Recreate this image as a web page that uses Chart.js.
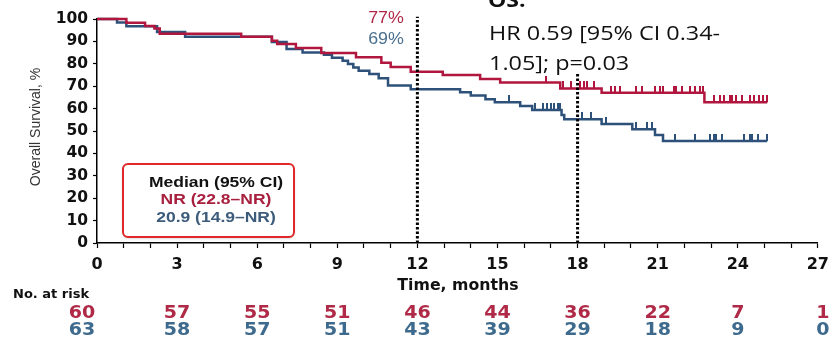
<!DOCTYPE html>
<html>
<head>
<meta charset="utf-8">
<script src="https://cdn.jsdelivr.net/npm/chart.js@4.4.1/dist/chart.umd.min.js"></script>
<style>
  html, body { margin: 0; padding: 0; background: #fff; }
</style>
</head>
<body>
<canvas id="km" width="836" height="341"></canvas>
<script>
// Kaplan-Meier steps (months, % surviving)
const redTimes = [0, 1.1, 1.8, 2.15, 2.35, 5.4, 6.55, 6.75, 7.45, 8.4, 9.7, 10.65, 11.0, 11.75, 12.95, 14.35, 15.1, 17.35, 18.9, 22.75, 25.1];
const redSurv  = [100, 98.3, 96.9, 95.8, 93.4, 92.1, 90.3, 88.8, 87.0, 84.8, 82.9, 80.5, 78.6, 76.5, 75.0, 73.2, 71.6, 69.0, 67.1, 62.8, 62.8];
const redCensor = [16.8, 17.45, 17.75, 18.1, 18.25, 18.35, 18.6, 19.25, 19.4, 19.6, 20.2, 20.4, 20.9, 21.1, 21.2, 21.6, 21.7, 21.9, 22.2, 22.4, 22.6, 22.7,
                   23.1, 23.35, 23.5, 23.7, 23.8, 23.95, 24.15, 24.45, 24.6, 24.8, 24.95, 25.1];

const blueTimes = [0, 0.75, 1.1, 2.25, 3.3, 6.55, 7.1, 7.7, 8.5, 8.8, 9.2, 9.4, 9.6, 9.8, 10.2, 10.55, 10.9, 11.75, 13.6, 14.0, 14.55, 14.9, 15.85, 16.3, 17.4, 17.5, 18.9, 20.05, 20.9, 21.2, 25.1];
const blueSurv  = [100, 98.4, 96.8, 94.2, 92.1, 89.7, 86.6, 85.1, 84.0, 82.7, 81.4, 79.9, 78.4, 76.9, 75.4, 73.5, 70.3, 68.6, 67.3, 65.8, 64.2, 62.8, 61.2, 59.4, 57.1, 55.2, 53.1, 50.8, 48.2, 45.5, 45.5];
const blueCensor = [0.4, 15.45, 16.4, 16.7, 16.85, 17.0, 17.1, 17.25, 17.35, 18.15, 18.5, 19.05, 20.2, 20.6, 20.8, 21.65, 22.4, 22.95, 23.1, 23.2, 23.4,
                    24.25, 24.45, 24.55, 24.75, 25.1];

// landmark lines (month, top of line in %)
const landmarkMonths = [12, 18];
const landmarkTops = [101, 76];
const landmarkLabels = ['77%', '69%'];

// number at risk
const riskMonths = [0, 3, 6, 9, 12, 15, 18, 21, 24, 27];
const riskRed  = [60, 57, 55, 51, 46, 44, 36, 22, 7, 1];
const riskBlue = [63, 58, 57, 51, 43, 39, 29, 18, 9, 0];

const legendLines = ['Median (95% CI)', 'NR (22.8\u2013NR)', '20.9 (14.9\u2013NR)'];
const statLines = ['OS:', 'HR 0.59 [95% CI 0.34-', '1.05]; p=0.03'];

const RED = '#b1163e';
const BLUE = '#2d5179';
const RED_TXT = '#b02a48';
const BLUE_TXT = '#3d6a8d';

function survAt(times, surv, t) {
    let s = surv[0];
    for (let i = 0; i < times.length; i++) {
        if (times[i] <= t) s = surv[i];
    }
    return s;
}

// upward censor tick
function tickMark(color) {
    const c = document.createElement('canvas');
    c.width = 2;
    c.height = 14;
    const g = c.getContext('2d');
    g.fillStyle = color;
    g.fillRect(0, 0, 2, 7);
    return c;
}

function text(ctx, s, x, y, font, color, align, sx, baseline) {
    ctx.save();
    ctx.translate(x, y);
    ctx.scale(sx || 1, 1);
    ctx.font = font;
    ctx.fillStyle = color;
    ctx.textAlign = align || 'left';
    ctx.textBaseline = baseline || 'middle';
    ctx.fillText(s, 0, 0);
    ctx.restore();
}

const stepData = (times, surv) => times.map((t, i) => ({ x: t, y: surv[i] }));
const censorData = (ts, times, surv) => ts.map(t => ({ x: t, y: survAt(times, surv, t) }));

const annotations = {
    id: 'annotations',
    beforeDraw(chart) {
        const ctx = chart.ctx;
        ctx.save();
        ctx.fillStyle = '#fff';
        ctx.fillRect(0, 0, chart.width, chart.height);
        ctx.restore();
    },
    afterDraw(chart) {
        const ctx = chart.ctx;
        const xs = chart.scales.x;
        const bold = 'bold 15px "DejaVu Sans"';

        // y title
        ctx.save();
        ctx.translate(36, 127);
        ctx.rotate(-Math.PI / 2);
        text(ctx, 'Overall Survival, %', 0, 0, '14px "Liberation Sans"', '#333', 'center');
        ctx.restore();

        // landmark percentages
        text(ctx, landmarkLabels[0], 386, 18, '17px "Liberation Sans"', RED_TXT, 'center', 1.05);
        text(ctx, landmarkLabels[1], 386, 39, '17px "Liberation Sans"', '#4b7090', 'center', 1.05);

        // stats text top right
        text(ctx, statLines[0], 488, 7, 'bold 20px "Open Sans"', '#111', 'left', 1.15, 'alphabetic');
        text(ctx, statLines[1], 489, 40, '20px "Open Sans"', '#111', 'left', 1.17, 'alphabetic');
        text(ctx, statLines[2], 489, 70, '20px "Open Sans"', '#111', 'left', 1.17, 'alphabetic');

        // median box
        ctx.save();
        ctx.shadowColor = 'rgba(0,0,0,0.25)';
        ctx.shadowBlur = 3;
        ctx.shadowOffsetY = 1;
        ctx.fillStyle = '#fff';
        ctx.beginPath();
        ctx.roundRect(123, 164, 171, 73, 5);
        ctx.fill();
        ctx.restore();
        ctx.save();
        ctx.strokeStyle = '#e02828';
        ctx.lineWidth = 2;
        ctx.beginPath();
        ctx.roundRect(123, 164, 171, 73, 5);
        ctx.stroke();
        ctx.restore();
        text(ctx, legendLines[0], 216, 183, 'bold 14px "Liberation Sans"', '#111', 'center', 1.25);
        text(ctx, legendLines[1], 216, 200, 'bold 14px "Liberation Sans"', '#a8203e', 'center', 1.25);
        text(ctx, legendLines[2], 216, 218, 'bold 14px "Liberation Sans"', '#3d5b7b', 'center', 1.25);

        // x title and risk table
        text(ctx, 'Time, months', 458, 286, bold, '#111', 'center', 1.05);
        text(ctx, 'No. at risk', 13, 295, 'bold 13px "DejaVu Sans"', '#111', 'left', 1.0);
        riskMonths.forEach((m, i) => {
            const x = xs.getPixelForValue(m) + (m === 0 ? -15 : 0) + (m === 27 ? 5 : 0);
            text(ctx, String(riskRed[i]), x, 314, 'bold 17px "DejaVu Sans"', RED_TXT, 'center', 1.12);
            text(ctx, String(riskBlue[i]), x, 331, 'bold 17px "DejaVu Sans"', BLUE_TXT, 'center', 1.12);
        });
    }
};

const datasets = [
    ...landmarkMonths.map((m, i) => ({
        type: 'line',
        data: [{ x: m, y: 0 }, { x: m, y: landmarkTops[i] }],
        borderColor: '#000',
        borderWidth: 3,
        borderDash: [2.5, 2],
        pointRadius: 0,
        clip: false,
        order: 0
    })),
    {
        type: 'scatter',
        data: censorData(redCensor, redTimes, redSurv),
        pointStyle: tickMark(RED),
        pointRadius: 7,
        order: 1
    },
    {
        type: 'scatter',
        data: censorData(blueCensor, blueTimes, blueSurv),
        pointStyle: tickMark(BLUE),
        pointRadius: 7,
        order: 1
    },
    {
        type: 'line',
        data: stepData(redTimes, redSurv),
        stepped: true,
        borderColor: RED,
        borderWidth: 2.5,
        pointRadius: 0,
        clip: false,
        order: 2
    },
    {
        type: 'line',
        data: stepData(blueTimes, blueSurv),
        stepped: true,
        borderColor: BLUE,
        borderWidth: 2.5,
        pointRadius: 0,
        clip: false,
        order: 3
    }
];

new Chart(document.getElementById('km'), {
    type: 'scatter',
    data: { datasets },
    options: {
        responsive: false,
        animation: false,
        layout: { padding: { top: 19, right: 14, left: 0, bottom: 0 } },
        plugins: { legend: { display: false }, tooltip: { enabled: false } },
        scales: {
            x: {
                type: 'linear',
                min: 0,
                max: 27,
                afterFit: s => { s.height = 98; },
                border: { color: '#000', width: 1.5 },
                grid: { drawOnChartArea: false, tickLength: 5, tickColor: '#000', tickWidth: 1.2 },
                ticks: {
                    stepSize: 1,
                    autoSkip: false,
                    maxRotation: 0,
                    padding: 7,
                    color: '#111',
                    font: { family: 'DejaVu Sans', size: 16, weight: 'bold' },
                    callback: v => (v % 3 === 0 ? v : '')
                }
            },
            y: {
                min: 0,
                max: 100,
                afterFit: s => { s.width = 97; },
                border: { color: '#000', width: 1.5 },
                grid: { drawOnChartArea: false, tickLength: 4, tickColor: '#000', tickWidth: 1.2 },
                ticks: {
                    stepSize: 10,
                    padding: 5,
                    color: '#111',
                    font: { family: 'DejaVu Sans', size: 15.5, weight: 'bold' }
                }
            }
        }
    },
    plugins: [annotations]
});
</script>
</body>
</html>
